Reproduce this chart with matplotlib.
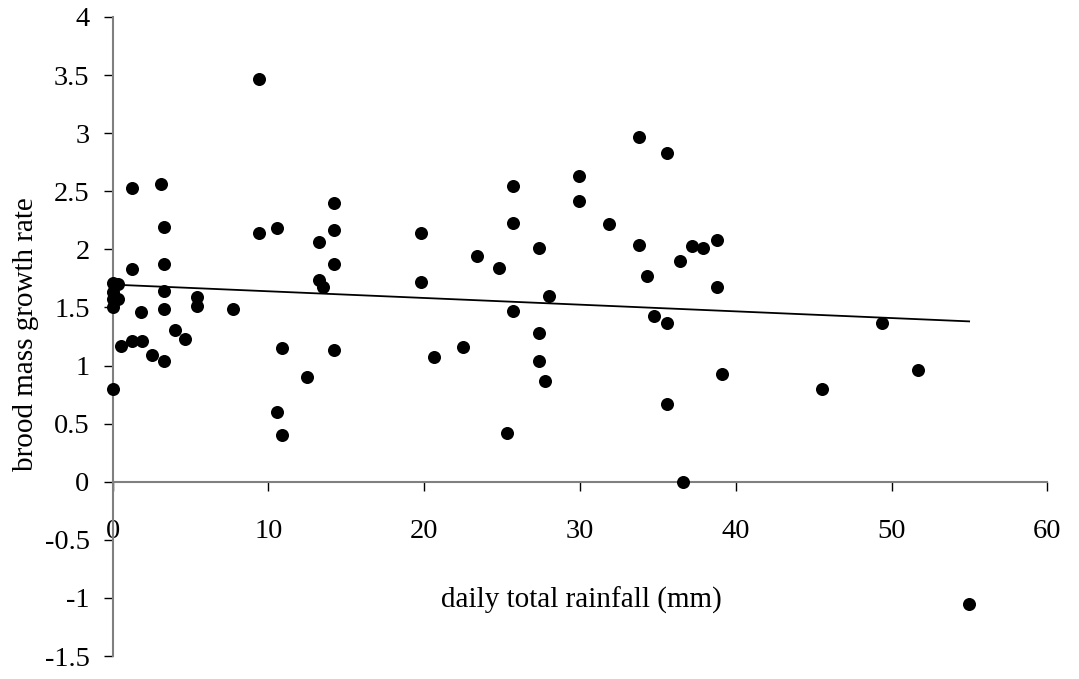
import matplotlib
matplotlib.use("Agg")
import matplotlib.pyplot as plt
import numpy as np

rainfall = [0, 0.37, 0, 0, 0.37, 0, 0,
            1.27, 3.31, 3.31, 3.31, 5.40, 5.40, 7.71, 1.83, 4.01, 4.65, 0.56, 1.27, 1.87, 2.54, 3.31,
            10.90, 10.54, 10.90,
            1.27, 3.09, 3.31, 9.38, 9.38, 10.54,
            14.22, 14.22, 13.25, 14.22, 13.25, 13.53, 12.46, 14.22,
            19.80, 19.80, 20.65, 22.52, 23.40, 24.83, 25.71, 25.71, 25.71, 25.32, 27.34, 27.34, 27.34, 27.74, 28.03,
            29.94, 29.94, 31.89, 33.81, 33.81, 35.57, 34.29, 34.76, 35.57, 35.57, 36.62, 36.41, 37.20, 37.88, 38.82, 38.82, 39.14,
            49.37, 51.68, 45.52, 54.97]
growth = [1.71, 1.70, 1.63, 1.57, 1.57, 1.50, 0.80,
          1.83, 1.87, 1.64, 1.49, 1.59, 1.51, 1.49, 1.46, 1.31, 1.23, 1.17, 1.21, 1.21, 1.09, 1.04,
          1.15, 0.60, 0.40,
          2.53, 2.56, 2.19, 3.47, 2.145, 2.18,
          2.40, 2.17, 2.06, 1.87, 1.74, 1.68, 0.90, 1.13,
          2.145, 1.715, 1.07, 1.16, 1.94, 1.84, 2.545, 2.23, 1.47, 0.42, 2.01, 1.28, 1.04, 0.865, 1.60,
          2.635, 2.414, 2.22, 2.97, 2.04, 2.83, 1.77, 1.43, 1.37, 0.67, 0.0, 1.90, 2.03, 2.01, 2.08, 1.68, 0.93,
          1.366, 0.965, 0.80, -1.05]

x_ticks = [0, 10, 20, 30, 40, 50, 60]
y_ticks = [-1.5, -1, -0.5, 0, 0.5, 1, 1.5, 2, 2.5, 3, 3.5, 4]
y_tick_labels = ["-1.5", "-1", "-0.5", "0", "0.5", "1", "1.5", "2", "2.5", "3", "3.5", "4"]
x_label = "daily total rainfall (mm)"
y_label = "brood mass growth rate"

plt.rcParams['font.family'] = ['Liberation Serif', 'DejaVu Serif']
FS = 20.5

fig = plt.figure(figsize=(10.79, 6.79), dpi=100)
ax = fig.add_axes([0.1043, 1 - 656 / 679, 0.9708 - 0.1043, (656 - 17) / 679])

ax.scatter(rainfall, growth, s=88, color='black', zorder=3, clip_on=False, linewidths=0)

xa = np.array(rainfall)
ya = np.array(growth)
slope, intercept = np.polyfit(xa, ya, 1)
xl = np.array([0, xa.max()])
ax.plot(xl, intercept + slope * xl, color='black', lw=1.3, zorder=2)

ax.set_xlim(0, 60)
ax.set_ylim(-1.5, 4)
ax.spines['top'].set_visible(False)
ax.spines['right'].set_visible(False)
ax.spines['bottom'].set_position(('data', 0))
for s in ('left', 'bottom'):
    ax.spines[s].set_color('#808080')
    ax.spines[s].set_linewidth(1.5)

ax.set_xticks(x_ticks)
ax.set_xticklabels([str(t) for t in x_ticks])
ax.set_yticks(y_ticks)
ax.set_yticklabels(y_tick_labels)
ax.tick_params(axis='x', direction='out', length=6.5, width=1, colors='black', labelsize=FS, pad=20)
ax.tick_params(axis='y', direction='out', length=6.5, width=1, colors='black', labelsize=FS, pad=10)

fig.text(441 / 1079, 1 - 600 / 679, x_label, fontsize=21, ha='left', va='center')
fig.text(26 / 1079, 1 - 334 / 679, y_label, fontsize=21, ha='center', va='center', rotation=90)

fig.savefig('out.png', dpi=100)
